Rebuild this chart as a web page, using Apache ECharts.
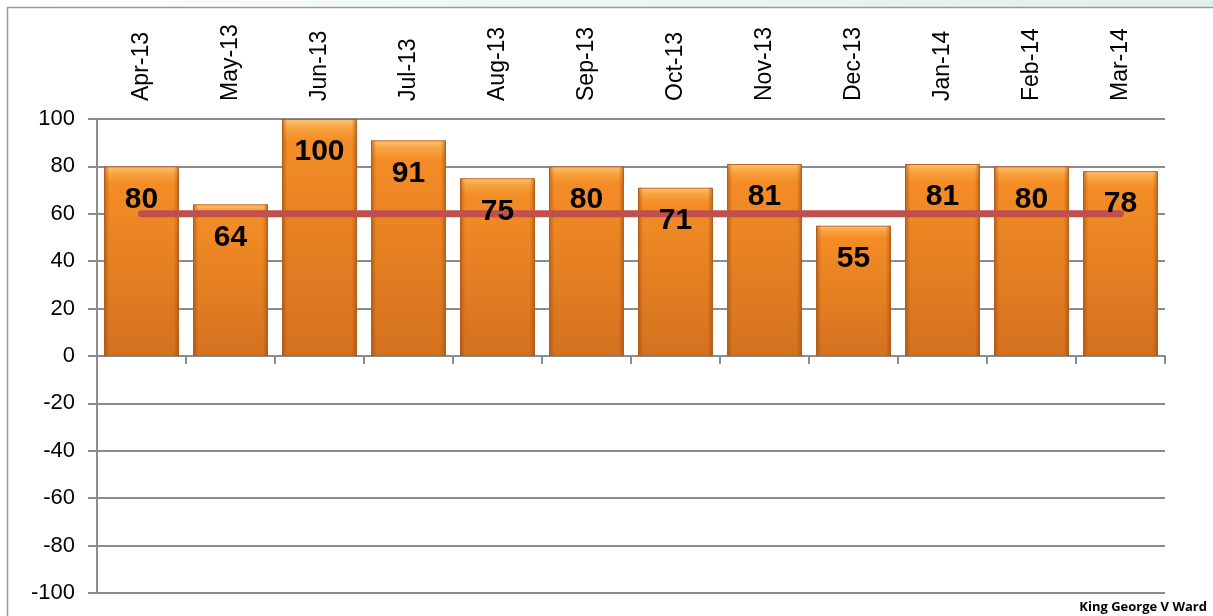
<!DOCTYPE html>
<html><head><meta charset="utf-8">
<script src="https://cdn.jsdelivr.net/npm/echarts@6/dist/echarts.min.js"></script>
<style>html,body{margin:0;padding:0;background:#fff}#c{width:1213px;height:616px}</style>
</head><body><div id="c"></div>
<script>
const categories = ['Apr-13','May-13','Jun-13','Jul-13','Aug-13','Sep-13','Oct-13','Nov-13','Dec-13','Jan-14','Feb-14','Mar-14'];
const values = [80,64,100,91,75,80,71,81,55,81,80,78];
const target = [60,60,60,60,60,60,60,60,60,60,60,60];
const yTicks = {min:-100, max:100, interval:20};

const chart = echarts.init(document.getElementById('c'));
chart.setOption({
  animation:false,
  graphic:[
    {type:'rect', shape:{x:0,y:0,width:1213,height:7}, style:{fill:new echarts.graphic.LinearGradient(0,0,1,0,[{offset:0,color:'#ffffff'},{offset:0.3,color:'#f3f8f8'},{offset:1,color:'#e2eeee'}])}, z:-1},
    {type:'line', shape:{x1:7,y1:7.5,x2:1213,y2:7.5}, style:{stroke:'#9a9a9a',lineWidth:1.5}},
    {type:'line', shape:{x1:7.5,y1:7,x2:7.5,y2:616}, style:{stroke:'#9a9a9a',lineWidth:1.5}},
    {type:'text', right:6, bottom:2, style:{text:'King George V Ward', font:'bold 13px "Open Sans", sans-serif', fill:'#000'}}
  ],
  grid:{left:97, right:48, top:119, bottom:23},
  xAxis:[
    {type:'category', data:categories, position:'bottom', boundaryGap:true,
     axisLine:{onZero:true, lineStyle:{color:'#8c8c8c', width:2}},
     axisTick:{show:true, length:8, lineStyle:{color:'#8c8c8c', width:2}},
     axisLabel:{show:false}},
    {type:'category', data:categories, position:'top', boundaryGap:true,
     axisLine:{show:false}, axisTick:{show:false},
     axisLabel:{rotate:-90, margin:18, fontSize:23, color:'#000', fontFamily:'Liberation Sans, sans-serif'}}
  ],
  yAxis:{type:'value', min:yTicks.min, max:yTicks.max, interval:yTicks.interval,
    axisLine:{show:true, lineStyle:{color:'#8c8c8c', width:2}},
    axisTick:{show:true, length:9, lineStyle:{color:'#8c8c8c', width:2}},
    axisLabel:{fontSize:22, color:'#000', margin:22, fontFamily:'Liberation Sans, sans-serif'},
    splitLine:{lineStyle:{color:'#8c8c8c', width:2}}},
  series:[
    {type:'bar', data:values, barCategoryGap:'16%', xAxisIndex:0,
     itemStyle:{color:new echarts.graphic.LinearGradient(0,0,0,1,[{offset:0,color:'#fcc478'},{offset:0.035,color:'#f9a443'},{offset:0.09,color:'#f48d26'},{offset:1,color:'#d4711f'}]),
       borderColor:'#c9661c', borderWidth:1},
     z:2},
    {type:'bar', data:values, barCategoryGap:'16%', barGap:'-100%', xAxisIndex:0,
     itemStyle:{color:new echarts.graphic.LinearGradient(0,0,1,0,[{offset:0,color:'rgba(150,70,10,0.55)'},{offset:0.07,color:'rgba(150,70,10,0)'},{offset:0.93,color:'rgba(150,70,10,0)'},{offset:1,color:'rgba(150,70,10,0.55)'}])},
     z:2},
    {type:'line', data:target, xAxisIndex:0, symbol:'none', z:3,
     lineStyle:{color:'#c0504d', width:7, cap:'round'}},
    {type:'bar', data:values, barCategoryGap:'16%', barGap:'-100%', xAxisIndex:0,
     itemStyle:{color:'rgba(0,0,0,0)'},
     label:{show:true, position:'insideTop', distance:18, fontSize:30, fontWeight:'bold', color:'#000', fontFamily:'"Liberation Sans Narrow", "Liberation Sans", sans-serif'},
     z:5}
  ]
});
</script></body></html>
